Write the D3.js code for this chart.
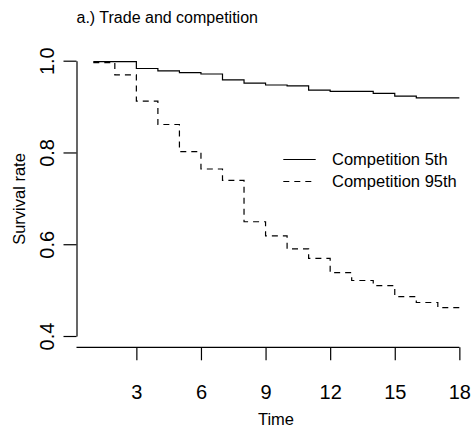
<!DOCTYPE html>
<html>
<head>
<meta charset="utf-8">
<script src="https://cdn.jsdelivr.net/npm/d3@7.9.0/dist/d3.min.js"></script>
<style>
  html, body { margin: 0; padding: 0; background: #fff; }
  svg { display: block; font-family: "Liberation Sans", Arial, Helvetica, sans-serif; }
</style>
</head>
<body>
<svg width="475" height="434"></svg>
<script>
// survival by time
const times = [1, 2, 3, 4, 5, 6, 7, 8, 9, 10, 11, 12, 13, 14, 15, 16, 17, 18];
const comp5th = [0.998, 0.998, 0.983, 0.978, 0.974, 0.971, 0.958, 0.951, 0.947,
                 0.945, 0.936, 0.933, 0.933, 0.929, 0.923, 0.919, 0.919, 0.919];
const comp95th = [0.996, 0.969, 0.912, 0.861, 0.802, 0.764, 0.739, 0.649, 0.618,
                  0.590, 0.569, 0.538, 0.521, 0.510, 0.486, 0.473, 0.462, 0.455];
const xTicks = [3, 6, 9, 12, 15, 18];
const yTicks = [0.4, 0.6, 0.8, 1.0];
const seriesNames = ['Competition 5th', 'Competition 95th'];

const svg = d3.select('svg');
const lw = 1.2;
const dash = '6,5';

let x = d3.scaleLinear().domain([0.22, 18.68]).range([76.5, 474]);
let y = d3.scaleLinear().domain([0.4, 1.0]).range([336, 60.7]);
const xAxisY = 347.3;

// x axis (R style: line from plot edge to last tick)
let gx = svg.append('g')
    .attr('transform', `translate(0,${xAxisY})`)
    .call(d3.axisBottom(x).tickValues(xTicks).tickSize(13).tickPadding(25).tickFormat(d3.format('d')));
gx.select('.domain').remove();
gx.append('line')
    .attr('x1', x.range()[0]).attr('x2', x(18))
    .attr('stroke', '#000');
gx.selectAll('line').attr('stroke-width', lw);
gx.selectAll('text').attr('font-size', 20).attr('fill', '#000');

// y axis with rotated labels
let gy = svg.append('g')
    .attr('transform', `translate(${x.range()[0]},0)`)
    .call(d3.axisLeft(y).tickValues(yTicks).tickSize(13).tickSizeOuter(0).tickFormat(d3.format('.1f')));
gy.selectAll('path, line').attr('stroke-width', lw);
gy.selectAll('text')
    .attr('font-size', 20)
    .attr('fill', '#000')
    .attr('x', null).attr('dy', null)
    .attr('text-anchor', 'middle')
    .attr('transform', 'translate(-23,0) rotate(-90)');

// step curves
let line = d3.line()
    .x((d) => x(d[0]))
    .y((d) => y(d[1]))
    .curve(d3.curveStepAfter);

[comp5th, comp95th].forEach((vals, idx) => {
    svg.append('path')
        .attr('d', line(times.map((t, i) => [t, vals[i]])))
        .attr('fill', 'none')
        .attr('stroke', '#000')
        .attr('stroke-width', lw)
        .attr('stroke-dasharray', idx === 1 ? dash : null);
});

// legend
let legend = svg.append('g');
seriesNames.forEach((name, idx) => {
    let ly = 159.5 + idx * 22;
    legend.append('line')
        .attr('x1', 283.3).attr('x2', 315.7)
        .attr('y1', ly).attr('y2', ly)
        .attr('stroke', '#000')
        .attr('stroke-width', lw)
        .attr('stroke-dasharray', idx === 1 ? dash : null);
    legend.append('text')
        .attr('x', 332).attr('y', ly).attr('dy', '0.36em')
        .attr('font-size', 16.5)
        .text(name);
});

// titles
svg.append('text')
    .attr('x', 76.5).attr('y', 22.5)
    .attr('font-size', 16)
    .text('a.) Trade and competition');

svg.append('text')
    .attr('x', 276).attr('y', 425)
    .attr('text-anchor', 'middle')
    .attr('font-size', 16.5)
    .text('Time');

svg.append('text')
    .attr('transform', 'translate(25,199) rotate(-90)')
    .attr('text-anchor', 'middle')
    .attr('font-size', 16.5)
    .text('Survival rate');
</script>
</body>
</html>
